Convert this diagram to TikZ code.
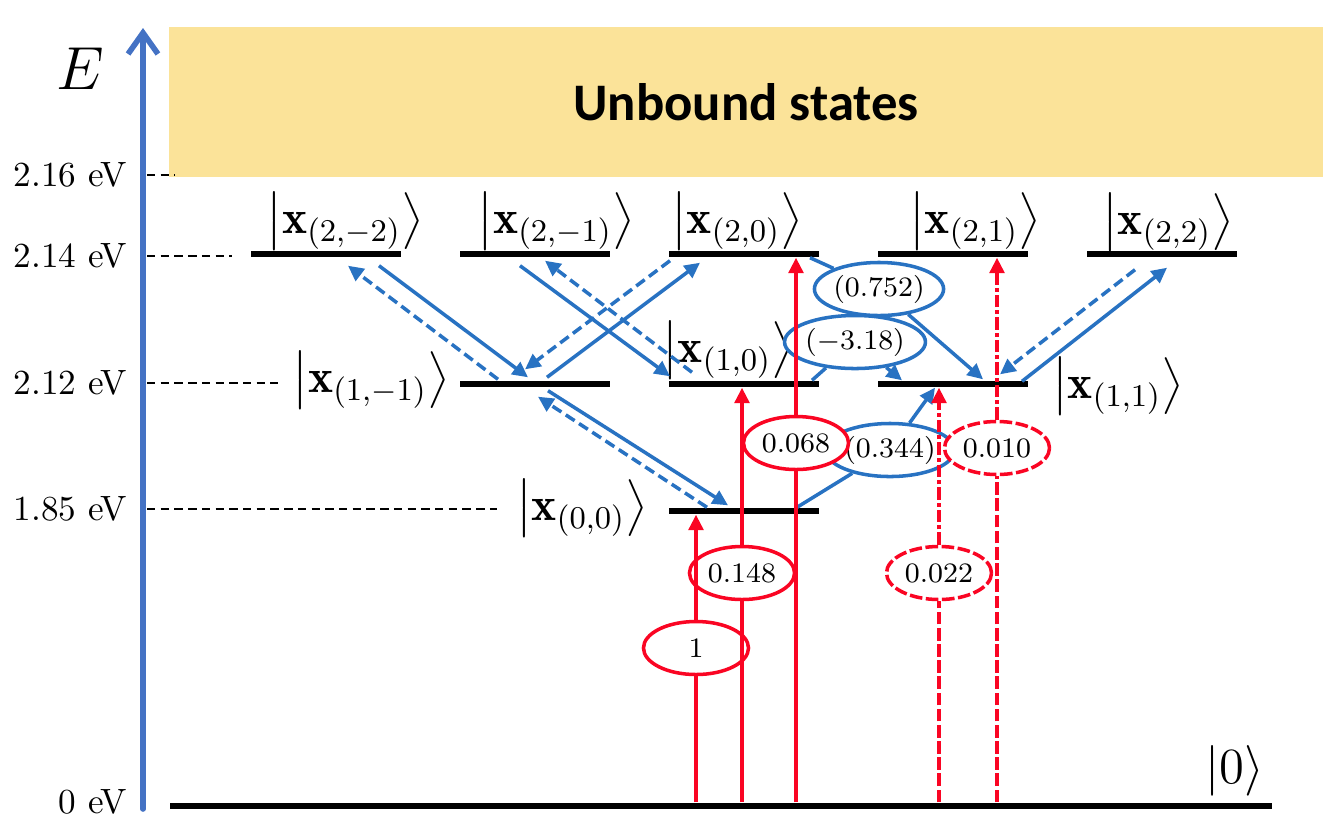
\documentclass[tikz,border=0pt]{standalone}
\usepackage{amsmath,amssymb}
\usepackage{fontspec}
\newfontfamily\unbfont{Carlito}
\usepackage{tikz}
\usetikzlibrary{arrows.meta,shapes.geometric,calc}
\definecolor{axisblue}{RGB}{68,114,196}
\definecolor{arblue}{RGB}{40,114,194}
\definecolor{arred}{RGB}{250,5,35}
\definecolor{unbfill}{RGB}{251,227,153}
\newcommand{\kx}[1]{\left|\mathbf{x}_{(#1)}\right\rangle}

\begin{document}
\begin{tikzpicture}[x=0.01cm,y=-0.01cm,
  level/.style={fill=black,minimum width=1.5cm,minimum height=0.06cm,inner sep=0},
  ket/.style={font=\fontsize{13.5}{16}\selectfont,inner sep=0},
  bsolid/.style={arblue,line width=1pt,-{Triangle[length=4.4pt,width=4.2pt]}},
  bdash/.style={bsolid,dash pattern=on 3pt off 1.5pt},
  rsolid/.style={arred,line width=1pt},
  rdash/.style={rsolid,dash pattern=on 3.6pt off 1pt},
  rdashdot/.style={rsolid,dash pattern=on 3.6pt off 0.8pt on 1.2pt off 0.8pt},
  rtip/.style={-{Triangle[length=4.4pt,width=4.2pt]}},
  amp/.style={ellipse,draw,fill=white,line width=1pt,minimum width=1.05cm,minimum height=0.53cm,inner sep=0,font=\footnotesize},
  ramp/.style={amp,draw=arred},
  bamp/.style={amp,draw=arblue}]
\useasboundingbox (0,0) rectangle (1337,839);
\node[fill=unbfill,minimum width=11.54cm,minimum height=1.5cm,inner sep=0] (unb) at (746,102) {\unbfont\bfseries\fontsize{15}{18}\selectfont Unbound states};
\draw[axisblue,line width=1.6pt,line cap=round,-{Straight Barb[length=6pt,width=8.5pt]}] (143,809) -- (143,28);
\node[font=\fontsize{16}{19}\selectfont] (E) at (80,69) {$E$};
\foreach \y/\lab/\e [count=\n] in {175/2.16/175,256/2.14/232,383/2.12/278,509/1.85/497}
  {\node[anchor=east,inner sep=0] (tick\n) at (128,\y) {\lab\ eV};
   \draw[line width=0.6pt,dash pattern=on 2.4pt off 1.5pt] (147,\y) -- (\e,\y);}
\node[anchor=east,inner sep=0] (tick0) at (128,802) {0 eV};
% levels
\node[fill=black,minimum width=11.02cm,minimum height=0.06cm,inner sep=0] (g0) at (721,806) {};
\node[level] (s2m2) at (326,254) {};
\node[level] (s2m1) at (535,254) {};
\node[level] (s20) at (744,254) {};
\node[level] (s21) at (953,254) {};
\node[level] (s22) at (1162,254) {};
\node[level] (s1m1) at (535,384) {};
\node[level] (s10) at (744,384) {};
\node[level] (s11) at (953,384) {};
\node[level] (s00) at (744,511) {};
\node[ket] (k2m2) at (345,221) {$\kx{2,-2}$};
\node[ket] (k2m1) at (556,221) {$\kx{2,-1}$};
\node[ket] (k20) at (737,221) {$\kx{2,0}$};
\node[ket] (k21) at (975,221) {$\kx{2,1}$};
\node[ket] (k22) at (1168,222) {$\kx{2,2}$};
\node[ket] (k1m1) at (371,380) {$\kx{1,-1}$};
\node[ket] (k10) at (728,350) {$\kx{1,0}$};
\node[ket] (k11) at (1118,386) {$\kx{1,1}$};
\node[ket] (k00) at (582,508) {$\kx{0,0}$};
\node[ket] (k0) at (1235,771) {$|0\rangle$};
% amplitudes
\node[bamp] (e752) at (879,289) {$(0.752)$};
\node[bamp] (e318) at (855,342) {$(-3.18)$};
\node[bamp] (e344) at (890,450) {$(0.344)$};
\node[ramp] (e1) at (696,648) {1};
\node[ramp] (e148) at (742,573) {0.148};
\node[ramp] (e068) at (796,443) {0.068};
\node[ramp,dash pattern=on 3.6pt off 1pt] (e022) at (939,573) {0.022};
\node[ramp,dash pattern=on 3.6pt off 1pt] (e010) at (997,448) {0.010};
% blue couplings
\draw[bsolid] ($(s2m2.south)+(53,8)$) -- ($(s1m1.north)+(-7,-3)$);
\draw[bdash] ($(s1m1.north)+(-37,-1)$) -- ($(s2m2.south)+(22,8)$);
\draw[bsolid] ($(s1m1.south)+(13,3)$) -- ($(s00.north)+(-16,-2)$);
\draw[bdash] ($(s00.north)+(-37,0)$) -- ($(s1m1.south)+(3,9)$);
\draw[bsolid] ($(s1m1.north)+(12,-3)$) -- ($(s20.south)+(-44,5)$);
\draw[bdash] ($(s20.south)+(-74,3)$) -- ($(s1m1.north)+(-10,-11)$);
\draw[bsolid] ($(s2m1.south)+(-15,8)$) -- ($(s10.north)+(-74,-4)$);
\draw[bdash] ($(s10.north)+(-52,-8)$) -- ($(s2m1.south)+(10,3)$);
\draw[bsolid] ($(s20.south)+(66,0)$) -- (e752) -- ($(s11.north)+(30,-1)$);
\draw[bsolid] ($(s10.north)+(68,0)$) -- (e318) -- ($(s11.north)+(-51,0)$);
\draw[bsolid] ($(s00.north)+(53,0)$) -- (e344) -- ($(s11.south)+(-18,0)$);
\draw[bsolid] ($(s11.north)+(69,1)$) -- ($(s22.south)+(5,10)$);
\draw[bdash] ($(s22.south)+(-27,12)$) -- ($(s11.north)+(47,-6)$);
% red excitations
\draw[rsolid,rtip] (e1 |- g0.north) -- (e1) -- (e1 |- s00.south);
\draw[rsolid,rtip] (e148 |- g0.north) -- (e148) -- (e148 |- s10.south);
\draw[rsolid,rtip] (e068 |- g0.north) -- (e068) -- (e068 |- s20.south);
\draw[rdash] (e022 |- g0.north) -- (e022);
\draw[rdashdot,rtip] (e022) -- (e022 |- s11.south);
\draw[rdash] (e010 |- g0.north) -- (e010);
\draw[rdashdot,rtip] (e010) -- (e010 |- s21.south);
\end{tikzpicture}
\end{document}
